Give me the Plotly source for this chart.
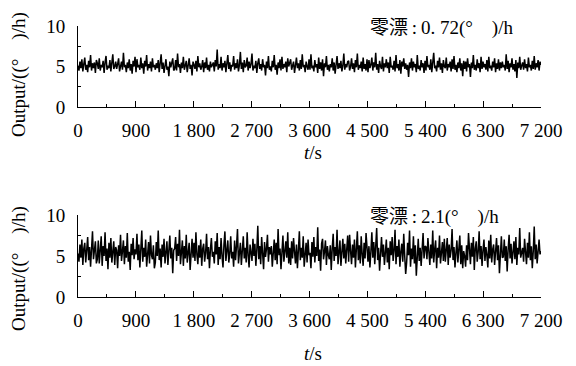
import numpy as np
import plotly.graph_objects as go

# ---------------- data ----------------
drift_top = [
    5.1,4.5,5.6,4.8,5.9,4.4,5.3,6.1,4.6,5.2,4.3,5.7,4.9,6.4,4.5,5.4,4.8,5.5,4.2,5.8,
    5.4,4.7,6.0,4.5,5.2,4.9,5.7,4.2,5.5,6.3,4.6,5.1,4.8,5.8,4.4,5.3,6.5,4.7,5.0,5.6,
    4.7,5.3,6.0,4.4,5.1,5.6,4.6,6.7,4.9,5.2,4.3,5.5,4.8,5.9,4.5,5.3,4.1,5.7,5.0,6.2,
    4.3,5.9,4.9,5.2,4.6,6.1,4.8,5.4,4.1,5.7,5.0,6.4,4.5,5.3,4.8,5.6,4.4,6.0,4.9,5.2,
    4.6,5.4,4.8,5.8,4.3,5.1,6.5,4.7,5.5,4.2,5.2,5.9,4.6,5.0,3.8,5.6,4.9,5.3,6.0,4.5,
    4.7,5.8,4.5,6.6,4.9,5.3,4.2,5.5,4.8,6.2,4.6,5.1,5.7,4.3,5.4,6.0,4.7,5.2,3.9,5.6,
    5.2,4.7,5.7,4.4,6.3,4.9,5.4,4.6,5.0,5.8,4.3,5.5,4.8,6.1,4.6,5.2,4.4,5.6,4.9,5.3,
    5.5,4.4,5.8,5.0,7.1,4.6,5.3,4.8,6.2,4.5,5.4,4.9,5.7,4.3,5.1,6.4,4.7,5.5,4.4,5.2,
    5.0,6.3,4.6,5.4,4.8,5.9,4.4,5.2,6.8,4.7,5.5,4.3,5.8,4.9,5.1,6.1,4.5,5.6,4.8,5.3,
    6.6,4.5,5.1,4.8,5.7,4.2,5.4,6.0,4.7,5.3,4.5,5.9,4.9,5.2,3.9,5.6,4.8,6.3,4.6,5.0,
    4.4,5.7,4.9,6.4,4.6,5.2,4.0,5.5,4.8,5.9,4.5,6.2,4.7,5.3,4.9,5.6,4.3,6.0,5.0,5.4,
    5.9,4.6,5.0,5.6,4.2,5.3,6.1,4.8,5.4,4.5,5.8,4.7,6.5,4.9,5.2,4.3,5.6,5.0,4.6,5.9,
    4.6,6.5,4.8,5.1,4.4,5.8,4.9,5.3,4.2,6.1,4.7,5.5,4.5,5.9,3.8,5.4,4.9,6.3,4.6,5.2,
    4.4,5.3,4.9,6.0,4.5,5.5,4.1,5.2,6.3,4.7,5.4,4.8,5.7,4.4,5.1,6.6,4.6,5.3,4.9,5.6,
    5.7,4.5,5.0,6.0,4.7,5.4,4.3,5.8,4.9,6.6,4.6,5.2,4.8,5.6,4.4,6.1,4.7,5.3,4.5,5.9,
    4.3,5.8,4.8,5.2,6.1,4.5,5.5,4.9,6.7,4.6,5.3,4.2,5.7,5.0,4.7,6.2,4.4,5.4,4.9,5.9,
    4.8,5.5,4.2,6.2,4.9,5.1,4.6,5.7,4.4,6.4,4.8,5.3,4.5,5.8,4.1,5.6,5.0,6.0,4.7,5.4,
    4.6,5.2,3.7,5.5,4.8,6.0,4.5,5.6,4.9,5.3,4.3,6.4,4.7,5.1,4.5,5.8,4.9,5.4,4.2,5.7,
    4.5,6.3,4.9,5.2,4.6,5.9,4.3,5.5,6.7,4.8,5.1,4.4,5.7,4.9,6.1,4.6,5.4,4.2,5.8,5.0,
    4.8,6.1,4.5,5.3,4.9,5.6,4.4,5.9,4.7,6.3,4.6,5.2,4.3,5.5,4.8,6.0,4.5,5.4,3.8,5.7,
    4.7,5.6,4.4,6.0,4.9,5.3,3.7,5.5,4.8,6.4,4.6,5.2,4.5,5.9,4.8,5.4,4.3,6.2,4.7,5.6,
    4.9,5.3,4.6,5.8,4.4,6.2,4.8,5.1,4.5,5.6,4.9,6.0,4.3,5.4,4.7,5.9,4.5,5.5,4.8,5.6,
    4.9,5.2,4.5,6.5,4.7,5.7,4.3,5.4,4.9,6.0,4.6,5.3,4.4,5.8,3.6,5.5,4.8,6.2,4.6,5.1,
    5.5,4.6,5.9,4.8,5.3,4.4,6.1,4.9,5.2,4.5,5.7,4.7,6.3,4.6,5.4,4.9,5.8,4.5,5.6,5.2,
]
drift_bottom = [
    5.3,4.3,6.4,4.8,7.0,3.9,5.9,6.6,4.2,5.5,7.3,4.5,6.1,3.7,5.8,8.0,4.6,5.4,6.8,4.1,
    4.6,6.9,4.1,5.7,7.4,3.8,6.2,5.0,7.9,4.4,5.9,3.4,6.6,4.8,7.2,4.2,5.5,6.8,3.9,6.1,
    5.7,3.5,6.3,5.0,7.6,4.4,5.6,6.9,4.0,6.2,4.8,7.8,4.3,5.5,3.3,6.5,5.1,7.2,4.6,5.8,
    5.2,7.7,4.5,6.4,3.6,5.8,8.1,4.3,6.0,4.9,7.0,3.7,5.6,6.7,4.1,7.5,5.1,4.6,6.3,3.5,
    4.2,6.7,5.0,8.1,4.5,5.9,3.6,6.4,4.9,7.1,4.1,5.6,6.8,3.9,5.3,7.5,4.7,6.0,2.9,5.7,
    5.9,7.3,4.4,6.5,5.0,8.2,4.0,5.7,6.9,3.8,6.2,4.7,7.6,4.2,5.4,6.6,3.3,6.0,7.1,4.8,
    6.6,4.4,7.9,5.2,4.0,6.3,4.8,7.0,3.8,5.9,6.5,4.3,5.4,7.7,4.6,6.1,3.5,5.8,7.2,4.9,
    5.5,4.1,6.8,5.2,7.8,3.9,6.1,4.6,7.2,5.0,3.6,6.4,8.0,4.4,5.8,6.9,4.2,5.3,7.4,4.7,
    5.5,3.7,6.9,4.5,6.2,8.3,4.1,5.7,6.6,3.9,5.3,7.4,4.7,6.0,4.2,7.9,5.1,3.6,6.4,5.6,
    4.4,7.1,5.0,6.5,3.8,5.8,8.7,4.6,6.2,4.0,7.3,5.3,3.4,6.7,4.9,5.9,7.6,4.3,6.1,5.2,
    6.2,3.7,5.6,7.0,4.5,6.6,4.0,8.3,5.1,5.9,3.4,6.3,7.5,4.3,5.7,6.8,4.8,7.9,4.1,6.0,
    3.9,6.8,4.7,7.2,5.5,4.1,6.4,3.5,5.7,8.0,4.5,6.0,4.8,7.4,3.7,5.4,6.6,4.2,7.0,5.1,
    5.4,3.5,6.7,4.9,7.3,4.2,6.1,5.0,8.5,4.4,5.8,3.2,6.5,7.1,4.6,5.5,6.9,3.9,6.2,5.1,
    4.6,6.3,3.3,5.9,7.7,4.4,6.1,5.0,8.2,4.0,5.6,6.9,3.8,5.3,7.1,4.7,6.5,4.1,5.8,7.5,
    4.3,7.6,5.6,4.0,6.4,4.8,7.0,3.6,5.9,8.0,4.5,6.3,4.1,7.4,5.2,3.8,6.6,4.7,7.8,5.4,
    4.3,6.2,3.6,5.5,7.9,4.8,6.7,4.0,5.7,8.4,4.5,6.0,3.2,5.4,7.3,4.9,6.4,3.9,5.8,7.0,
    4.2,6.0,3.4,6.8,5.1,7.3,4.4,5.7,8.2,4.0,6.2,4.9,7.0,3.7,5.5,6.5,4.3,7.7,5.0,2.8,
    4.2,6.6,5.1,8.1,3.7,5.9,4.6,7.4,4.1,6.3,2.6,5.6,7.1,4.4,6.0,3.8,5.5,7.8,4.7,6.2,
    6.1,4.6,7.2,5.3,3.9,6.4,4.7,8.1,4.2,5.8,6.9,3.5,6.0,4.8,7.5,4.1,5.6,6.7,4.4,7.1,
    4.3,5.8,7.2,3.9,6.4,4.8,5.7,8.3,4.5,6.1,3.6,5.4,6.9,4.2,5.9,7.5,4.0,6.3,3.5,5.6,
    5.0,3.7,6.3,4.5,7.8,5.2,4.0,6.6,4.9,7.3,3.3,5.9,6.8,4.3,5.5,8.0,4.6,6.2,3.8,5.7,
    7.0,4.4,6.1,5.1,3.6,6.9,4.7,7.6,4.2,5.8,6.4,3.9,5.4,7.2,4.5,6.3,2.9,5.7,7.4,4.8,
    4.9,7.0,4.4,6.2,3.1,5.8,7.6,4.7,6.5,4.1,5.5,6.8,4.6,7.3,3.9,6.0,5.2,8.4,4.8,5.6,
    6.0,4.3,7.1,5.5,4.0,6.6,4.8,7.9,4.5,6.2,3.5,5.6,8.6,4.6,6.4,4.1,5.9,7.0,5.2,5.6,
]
t_max = 7200
x_tickvals = [0, 900, 1800, 2700, 3600, 4500, 5400, 6300, 7200]
x_ticktext = ["0", "900", "1 800", "2 700", "3 600", "4 500", "5 400", "6 300", "7 200"]
y_tickvals = [0, 5, 10]
labels = ["零漂\u2009:\u20090. 72(°\u2003)/h", "零漂\u2009:\u20092.1(°\u2003)/h"]
y_title = "Output/((°\u2003)/h)"

# ---------------- figure ----------------
W, H = 576, 366
FONT = "Liberation Serif, Times New Roman, Noto Sans CJK SC, serif"

def px(x):
    return x / W

def py(y):
    return 1 - y / H

fig = go.Figure()
t_top = np.linspace(0, t_max, len(drift_top))
t_bot = np.linspace(0, t_max, len(drift_bottom))
fig.add_trace(go.Scatter(x=t_top, y=drift_top, mode="lines",
                         line=dict(color="black", width=1.5), xaxis="x", yaxis="y"))
fig.add_trace(go.Scatter(x=t_bot, y=drift_bottom, mode="lines",
                         line=dict(color="black", width=1.5), xaxis="x2", yaxis="y2"))

xdom = [px(78), px(541)]
panels = [(26, 107), (215, 297)]

def xaxis_cfg(anchor):
    return dict(domain=xdom, anchor=anchor, range=[0, t_max], tickvals=x_tickvals,
                ticktext=x_ticktext, ticks="inside", ticklen=6, tickwidth=1,
                tickcolor="black", showline=True, linecolor="black", linewidth=1,
                showgrid=False, zeroline=False, ticklabelstandoff=6, automargin=False,
                minor=dict(tickvals=[450, 1350, 2250, 3150, 4050, 4950, 5850, 6750],
                           ticks="inside", ticklen=3, tickcolor="black", showgrid=False),
                tickfont=dict(family=FONT, size=19, color="black"))

def yaxis_cfg(anchor, top, bot):
    return dict(domain=[py(bot), py(top)], anchor=anchor, range=[0, 10],
                tickvals=y_tickvals, ticks="inside", ticklen=5, tickwidth=1,
                tickcolor="black", showline=True, linecolor="black", linewidth=1,
                showgrid=False, zeroline=False, ticklabelstandoff=8, automargin=False,
                minor=dict(tickvals=[2.5, 7.5], ticks="inside", ticklen=3,
                           tickcolor="black", showgrid=False),
                tickfont=dict(family=FONT, size=19, color="black"))

fig.update_layout(
    width=W, height=H, margin=dict(l=0, r=0, t=0, b=0),
    paper_bgcolor="white", plot_bgcolor="white", showlegend=False,
    xaxis=xaxis_cfg("y"), yaxis=yaxis_cfg("x", *panels[0]),
    xaxis2=xaxis_cfg("y2"), yaxis2=yaxis_cfg("x2", *panels[1]),
)

anns = []
for (top, bot), lab, tcy, ycy in zip(panels, labels, [152, 353], [75, 269]):
    anns.append(dict(text=lab, x=px(368), y=py(top + 2), xref="paper", yref="paper",
                     xanchor="left", yanchor="middle", showarrow=False,
                     font=dict(family=FONT, size=19, color="black")))
    anns.append(dict(text="<i>t</i>/s", x=px(313), y=py(tcy), xref="paper", yref="paper",
                     xanchor="center", yanchor="middle", showarrow=False,
                     font=dict(family=FONT, size=19, color="black")))
    anns.append(dict(text=y_title, x=px(19), y=py(ycy), xref="paper", yref="paper",
                     xanchor="center", yanchor="middle", textangle=-90, showarrow=False,
                     font=dict(family=FONT, size=19, color="black")))
fig.update_layout(annotations=anns)

fig.write_html(
    "out.html",
    config={"displayModeBar": False},
    post_script="document.documentElement.style.margin='0';"
                "document.body.style.margin='0';document.body.style.overflow='hidden';",
)
